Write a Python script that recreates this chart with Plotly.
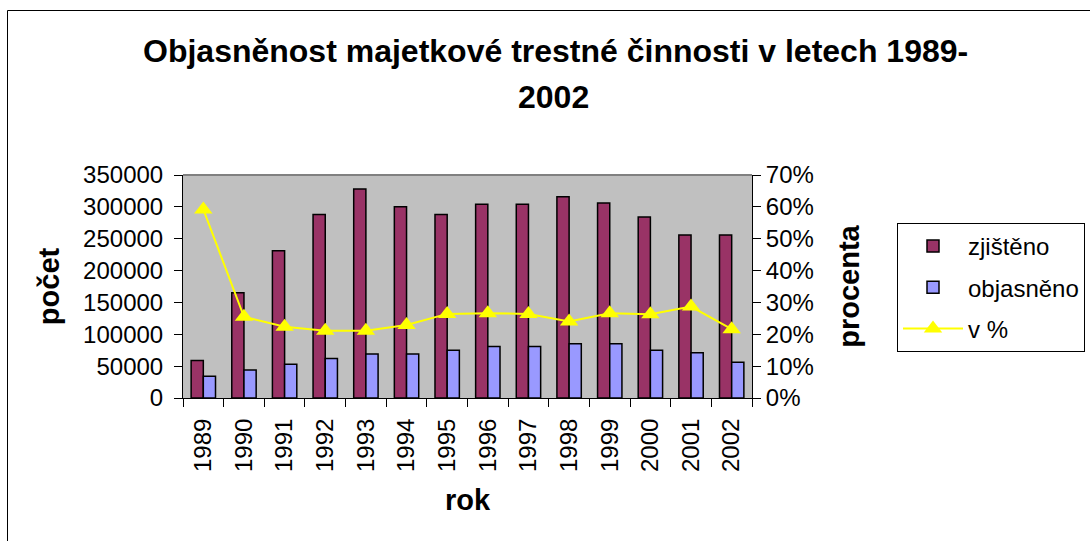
import plotly.graph_objects as go

# data
roky = ["1989", "1990", "1991", "1992", "1993", "1994", "1995",
        "1996", "1997", "1998", "1999", "2000", "2001", "2002"]
zjisteno = [59000, 165000, 231000, 288000, 328000, 300000, 288000,
            304000, 304000, 316000, 306000, 284000, 256000, 256000]
objasneno = [34000, 44000, 53000, 62000, 69000, 69000, 75000,
             81000, 81000, 85000, 85000, 75000, 71000, 56000]
procenta = [0.592, 0.255, 0.224, 0.211, 0.211, 0.229, 0.264,
            0.266, 0.264, 0.240, 0.266, 0.263, 0.287, 0.216]

FONT = "Liberation Sans, Arial, sans-serif"

# plot area in pixels
L, R, T, B = 183, 752, 175, 398
W, H = 1090, 541


def px_x(p):
    return (p - L) / (R - L)


def px_y(p):
    return (B - p) / (B - T)


fig = go.Figure()

fig.add_trace(go.Bar(
    x=roky, y=zjisteno, name="zjištěno",
    marker=dict(color="#993366", line=dict(color="black", width=1.5)),
    legendgroup="a",
))
fig.add_trace(go.Bar(
    x=roky, y=objasneno, name="objasněno",
    marker=dict(color="#9999FF", line=dict(color="black", width=1.5)),
    legendgroup="b",
))
fig.add_trace(go.Scatter(
    x=roky, y=procenta, name="v %", yaxis="y2",
    mode="lines+markers",
    line=dict(color="#FFFF00", width=2),
    marker=dict(symbol="triangle-up", size=16, color="#FFFF00"),
    legendgroup="c",
))

fig.update_layout(
    width=W, height=H,
    margin=dict(l=L, r=W - R, t=T, b=H - B, autoexpand=False),
    paper_bgcolor="white",
    plot_bgcolor="#C0C0C0",
    font=dict(family=FONT, size=24, color="black"),
    barmode="group",
    bargap=0.4,
    bargroupgap=0,
    showlegend=True,
    legend=dict(
        x=px_x(897), y=px_y(223), xanchor="left", yanchor="top",
        bgcolor="white", bordercolor="black", borderwidth=1,
        font=dict(size=24), tracegroupgap=7, traceorder="grouped",
        itemwidth=60,
    ),
    xaxis=dict(
        type="category", tickson="boundaries",
        range=[-0.5, len(roky) - 0.5],
        showline=True, linecolor="black", linewidth=1,
        ticks="outside", ticklen=8, tickcolor="black",
        tickangle=-90, showgrid=False, automargin=False,
        ticklabelstandoff=10,
        title=dict(text="<b>rok</b>", standoff=18),
    ),
    yaxis=dict(
        range=[0, 350000], dtick=50000, tickformat="d",
        showline=True, linecolor="black", linewidth=1,
        ticks="outside", ticklen=8, tickcolor="black",
        showgrid=False, zeroline=False, automargin=False,
        ticklabelstandoff=6,
        title=dict(text="<b>počet</b>", standoff=14),
    ),
    yaxis2=dict(
        range=[0, 0.7], dtick=0.1, tickformat=".0%",
        overlaying="y", side="right",
        showline=True, linecolor="black", linewidth=1,
        ticks="outside", ticklen=8, tickcolor="black",
        showgrid=False, zeroline=False, automargin=False,
        title=dict(text="<b>procenta</b>", standoff=25),
    ),
)

# gray top border of the plot area
fig.add_shape(type="line", xref="paper", yref="paper",
              x0=0, x1=1, y0=1, y1=1,
              line=dict(color="#808080", width=2))

# outer chart border (left and top edges are visible)
fig.add_shape(type="line", xref="paper", yref="paper",
              x0=px_x(7.5), x1=px_x(7.5), y0=px_y(541), y1=px_y(10.5),
              line=dict(color="black", width=1))
fig.add_shape(type="line", xref="paper", yref="paper",
              x0=px_x(7.5), x1=px_x(1090), y0=px_y(10.5), y1=px_y(10.5),
              line=dict(color="black", width=1))

# two-line title
fig.add_annotation(text="<b>Objasněnost majetkové trestné činnosti v letech 1989-</b>",
                   xref="paper", yref="paper", x=px_x(555), y=px_y(51),
                   xanchor="center", yanchor="middle", showarrow=False,
                   font=dict(size=32))
fig.add_annotation(text="<b>2002</b>",
                   xref="paper", yref="paper", x=px_x(553), y=px_y(97),
                   xanchor="center", yanchor="middle", showarrow=False,
                   font=dict(size=32))

# the page has a default body margin, remove it
fig.write_html("out.html", config={"displayModeBar": False},
               post_script="document.body.style.margin='0';")
